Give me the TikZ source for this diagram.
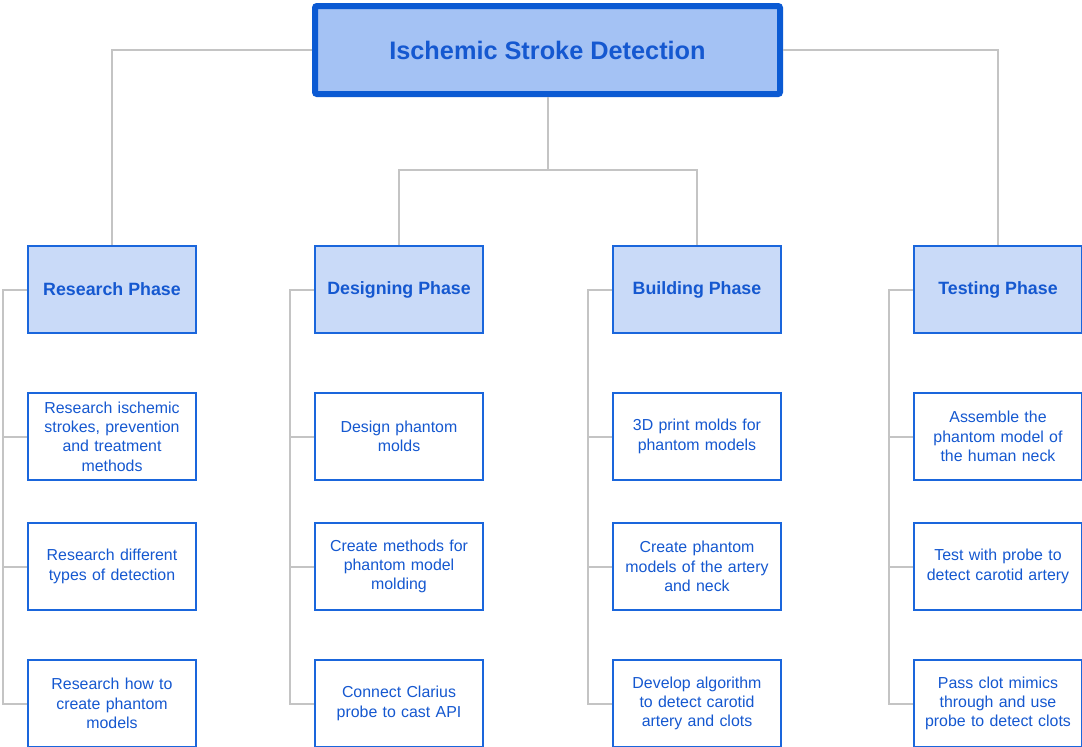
\documentclass[tikz,border=0pt]{standalone}
\usepackage{fontspec}
\setmainfont{Liberation Sans}
\definecolor{deepblue}{HTML}{0B5AD3}
\definecolor{midblue}{HTML}{1A66DC}
\definecolor{textblue}{HTML}{1558D0}
\definecolor{titlefill}{HTML}{A4C2F4}
\definecolor{phasefill}{HTML}{C9DAF8}
\definecolor{linkgray}{HTML}{C4C4C4}

\begin{document}
\begin{tikzpicture}
		[x=1pt,y=-1pt,
		top/.style={draw=deepblue,line width=6pt,fill=titlefill,rounded corners=2pt,
			minimum width=465pt,minimum height=88pt,inner sep=0pt,
			text=textblue,font=\fontsize{25.3}{30}\selectfont\bfseries},
		phase/.style={draw=midblue,line width=1.8pt,fill=phasefill,
			minimum width=168pt,minimum height=87pt,inner sep=0pt,
			text=textblue,font=\fontsize{17.8}{21}\selectfont\bfseries},
		task/.style={draw=midblue,line width=1.8pt,fill=white,
			minimum width=168pt,minimum height=87pt,inner sep=0pt,
			text width=164pt,align=center,
			text=textblue,font=\fontsize{15.9}{19.3}\selectfont},
		link/.style={draw=linkgray,line width=2pt}]

		\useasboundingbox (0,0) rectangle (1082,747);

		\node[top] (title) at (547.5,50) {Ischemic Stroke Detection};

		% phases
		\node[phase] (r0) at (112,289.5) {Research Phase};
		\node[phase] (d0) at (399,289.5) {Designing Phase};
		\node[phase] (b0) at (697,289.5) {Building Phase};
		\node[phase] (t0) at (998,289.5) {Testing Phase};

		% research tasks
		\node[task] (r1) at (112,436.5) {Research ischemic\\ strokes, prevention\\ and treatment\\ methods};
		\node[task] (r2) at (112,566.5) {Research different\\ types of detection};
		\node[task] (r3) at (112,703.5) {Research how to\\ create phantom\\ models};

		% designing tasks
		\node[task] (d1) at (399,436.5) {Design phantom\\ molds};
		\node[task] (d2) at (399,566.5) {Create methods for\\ phantom model\\ molding};
		\node[task] (d3) at (399,703.5) {Connect Clarius\\ probe to cast API};

		% building tasks
		\node[task] (b1) at (697,436.5) {3D print molds for\\ phantom models};
		\node[task] (b2) at (697,566.5) {Create phantom\\ models of the artery\\ and neck};
		\node[task] (b3) at (697,703.5) {Develop algorithm\\ to detect carotid\\ artery and clots};

		% testing tasks
		\node[task] (t1) at (998,436.5) {Assemble the\\ phantom model of\\ the human neck};
		\node[task] (t2) at (998,566.5) {Test with probe to\\ detect carotid artery};
		\node[task] (t3) at (998,703.5) {Pass clot mimics\\ through and use\\ probe to detect clots};

		% title to phases
		\draw[link] (title.west) -| (r0.north);
		\draw[link] (title.east) -| (t0.north);
		\draw[link] (title.south) -- ++(0,73) coordinate (split) -| (d0.north);
		\draw[link] (split) -| (b0.north);

		% phase rails
		\draw[link] (r0.west) -- ++(-24,0) |- (r3.west);
		\draw[link] (r1.west) -- ++(-24,0);
		\draw[link] (r2.west) -- ++(-24,0);

		\draw[link] (d0.west) -- ++(-24,0) |- (d3.west);
		\draw[link] (d1.west) -- ++(-24,0);
		\draw[link] (d2.west) -- ++(-24,0);

		\draw[link] (b0.west) -- ++(-24,0) |- (b3.west);
		\draw[link] (b1.west) -- ++(-24,0);
		\draw[link] (b2.west) -- ++(-24,0);

		\draw[link] (t0.west) -- ++(-24,0) |- (t3.west);
		\draw[link] (t1.west) -- ++(-24,0);
		\draw[link] (t2.west) -- ++(-24,0);

	\end{tikzpicture}
\end{document}
